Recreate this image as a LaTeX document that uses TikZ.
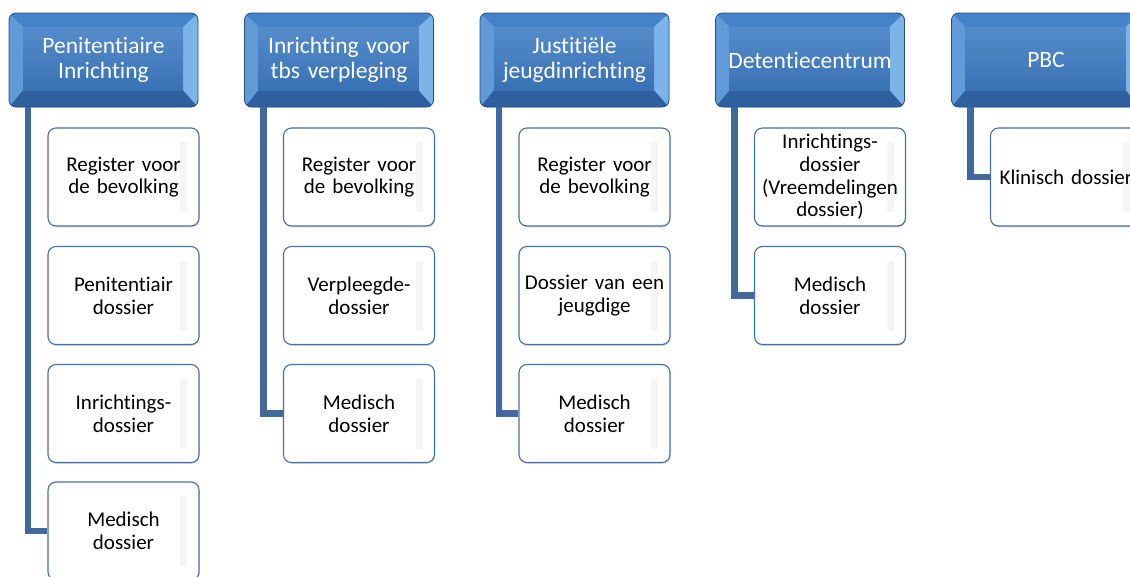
\documentclass[tikz,border=0pt]{standalone}
\usepackage{fontspec}
\setmainfont{Carlito}[RawFeature={-liga;-clig;-calt;-dlig}]
\usetikzlibrary{calc,shadows}
\definecolor{headblue}{RGB}{58,116,186}
\definecolor{headdark}{RGB}{36,78,132}
\definecolor{headface}{RGB}{62,124,196}
\definecolor{headtop}{RGB}{70,130,200}
\definecolor{headleft}{RGB}{96,154,216}
\definecolor{headright}{RGB}{124,180,232}
\definecolor{headbot}{RGB}{46,96,160}
\definecolor{childline}{RGB}{70,112,170}
\definecolor{childbevel}{RGB}{245,245,247}
\definecolor{barblue}{RGB}{65,105,158}
\tikzset{
	head/.style={rounded corners=7pt,fill=headblue,draw=headdark,line width=0.8pt,text=white,align=center,
		minimum width=189pt,minimum height=94pt,text width=182pt,inner sep=0pt,
		font=\fontsize{23.5}{25.7}\selectfont,
		path picture={
			\path (path picture bounding box.south west) coordinate (sw) (path picture bounding box.north east) coordinate (ne);
			\fill[headtop,sharp corners] (sw|-ne) -- (ne) -- ($(ne)+(-15pt,-14pt)$) -- ($(sw|-ne)+(14pt,-14pt)$) -- cycle;
			\fill[headbot,sharp corners] (sw) -- (ne|-sw) -- ($(ne|-sw)+(-15pt,17pt)$) -- ($(sw)+(14pt,17pt)$) -- cycle;
			\fill[headleft,sharp corners] (sw) -- (sw|-ne) -- ($(sw|-ne)+(14pt,-14pt)$) -- ($(sw)+(14pt,17pt)$) -- cycle;
			\fill[headright,sharp corners] (ne|-sw) -- (ne) -- ($(ne)+(-15pt,-14pt)$) -- ($(ne|-sw)+(-15pt,17pt)$) -- cycle;
			\shade[sharp corners,top color=headface!88!white,bottom color=headface!92!black] ($(sw)+(14pt,17pt)$) rectangle ($(ne)+(-15pt,-14pt)$);
		}},
	child/.style={rounded corners=8pt,fill=white,draw=childline,line width=1.1pt,text=black,align=center,
		minimum width=151pt,minimum height=98pt,text width=148pt,inner sep=0pt,
		font=\fontsize{21}{22.7}\selectfont,
		drop shadow={opacity=0.3,shadow xshift=0.6pt,shadow yshift=-1.4pt},
		path picture={
			\path (path picture bounding box.south west) coordinate (sw) (path picture bounding box.north east) coordinate (ne);
			\fill[childbevel,sharp corners] ($(ne|-sw)+(-19pt,14pt)$) rectangle ($(ne)+(-12pt,-14pt)$);
		}},
	bar/.style={draw=barblue,line width=6.5pt,line join=miter}
}
\begin{document}
\begin{tikzpicture}[x=1pt,y=-1pt]
	\useasboundingbox (0,0) rectangle (1130,576);

	% headers
	\node [head] (h1) at (103.5,60) {Penitentiaire\\Inrichting};
	\node [head] (h2) at (339,60) {Inrichting voor\\tbs verpleging};
	\node [head] (h3) at (574.5,60) {Justitiële\\jeugdinrichting};
	\node [head] (h4) at (810,60) {Detentiecentrum};
	\node [head] (h5) at (1046,60) {PBC};

	% children
	\node [child] (c11) at (123.5,177) {Register voor\\de bevolking};
	\node [child] (c12) at (123.5,295.5) {Penitentiair\\dossier};
	\node [child] (c13) at (123.5,413.5) {Inrichtings-\\dossier};
	\node [child] (c14) at (123.5,531) {Medisch\\dossier};

	\node [child] (c21) at (359,177) {Register voor\\de bevolking};
	\node [child] (c22) at (359,295.5) {Verpleegde-\\dossier};
	\node [child] (c23) at (359,413.5) {Medisch\\dossier};

	\node [child] (c31) at (594.5,177) {Register voor\\de bevolking};
	\node [child] (c32) at (594.5,295.5) {Dossier van een\\jeugdige};
	\node [child] (c33) at (594.5,413.5) {Medisch\\dossier};

	\node [child] (c41) at (830,177) {Inrichtings-\\dossier\\(Vreemdelingen\\dossier)};
	\node [child] (c42) at (830,295.5) {Medisch\\dossier};

	\node [child] (c51) at (1066,177) {Klinisch dossier};

	% connectors
	\draw [bar] (h1.south west) ++(19.5pt,0pt) |- (c14.west);
	\draw [bar] (h2.south west) ++(19.5pt,0pt) |- (c23.west);
	\draw [bar] (h3.south west) ++(19.5pt,0pt) |- (c33.west);
	\draw [bar] (h4.south west) ++(19.5pt,0pt) |- (c42.west);
	\draw [bar] (h5.south west) ++(19.5pt,0pt) |- (c51.west);
\end{tikzpicture}
\end{document}
